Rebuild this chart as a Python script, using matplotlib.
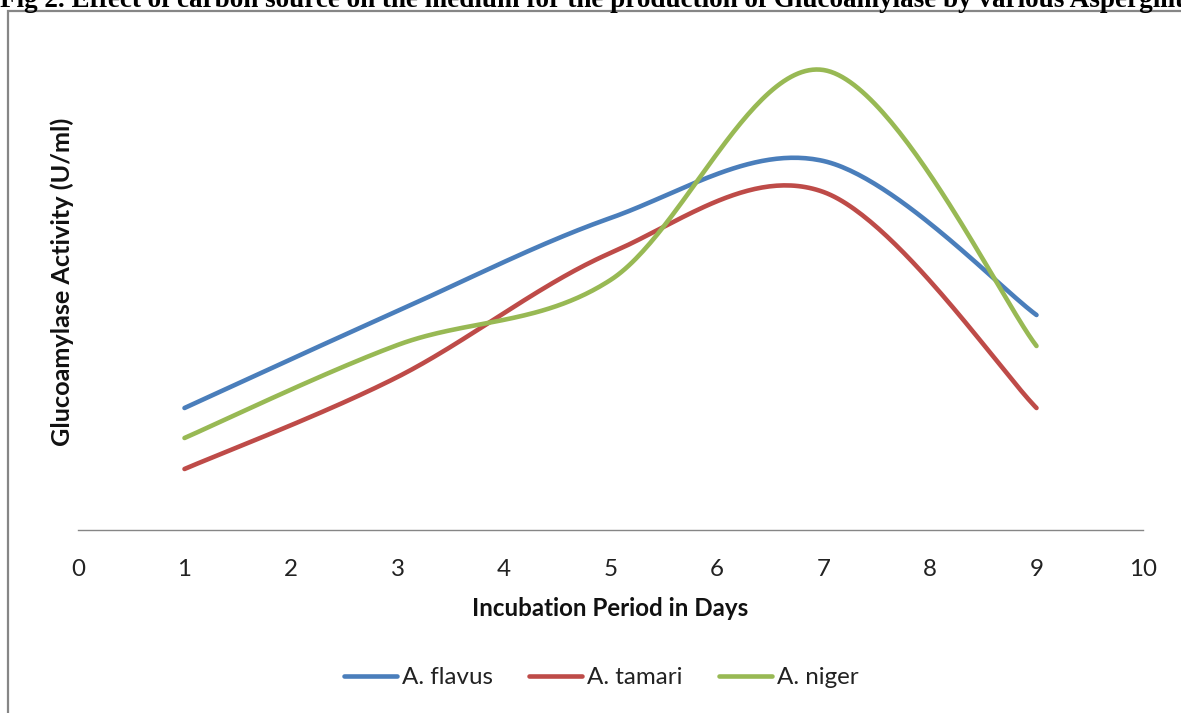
import numpy as np
import matplotlib
matplotlib.use("Agg")
import matplotlib.pyplot as plt
from matplotlib.patches import Rectangle

# ---- data ----
days = [1, 3, 5, 7, 9]
flavus = [2.44, 4.38, 6.24, 7.38, 4.30]
tamari = [1.22, 3.06, 5.54, 6.76, 2.44]
niger = [1.84, 3.70, 5.00, 9.20, 3.68]
series_names = ["A. flavus", "A. tamari", "A. niger"]
x_ticks = list(range(0, 11))
title = ("Fig 2. Effect of carbon source on the medium for the production "
         "of Glucoamylase by various Aspergillus")
x_label = "Incubation Period in Days"
y_label = "Glucoamylase Activity (U/ml)"

colors = ["#4A7EBB", "#BE4B48", "#98B954"]


def smooth(xs, ys, n=60):
    """Excel-style smoothed line (Bezier through points, Catmull-Rom handles)."""
    P = np.column_stack([xs, ys]).astype(float)
    m = len(P)
    out = []
    for i in range(m - 1):
        p0 = P[i - 1] if i > 0 else P[i]
        p1 = P[i]
        p2 = P[i + 1]
        p3 = P[i + 2] if i + 2 < m else P[i + 1]
        c1 = p1 + (p2 - p0) / 6.0
        c2 = p2 - (p3 - p1) / 6.0
        t = np.linspace(0, 1, n)[:, None]
        seg = ((1 - t) ** 3) * p1 + 3 * ((1 - t) ** 2) * t * c1 + 3 * (1 - t) * t ** 2 * c2 + t ** 3 * p2
        out.append(seg if i == 0 else seg[1:])
    arr = np.vstack(out)
    return arr[:, 0], arr[:, 1]


W, H = 1181, 713
fig = plt.figure(figsize=(W / 100, H / 100), dpi=100)

# outer chart border
fig.patches.append(Rectangle((8 / W, -0.05), 1.2, (H - 11) / H + 0.05,
                             transform=fig.transFigure, fill=False,
                             edgecolor="#868686", linewidth=1.6))

# title (partly outside the top edge, as in the source image)
fig.text(0.0, 1 - 7 / H, title, family="Liberation Serif", weight="bold",
         fontsize=19.5, ha="left", va="baseline", color="black")

ax = fig.add_axes([78 / W, 1 - 530 / H, (1143 - 78) / W, (530 - 40) / H])
for name, ys, c in zip(series_names, [flavus, tamari, niger], colors):
    sx, sy = smooth(days, ys)
    ax.plot(sx, sy, color=c, linewidth=3.3, solid_capstyle="round", label=name)

FS = 17.4
ax.set_xlim(0, 10)
ax.set_ylim(0, 9.8)
ax.set_xticks(x_ticks)
ax.set_yticks([])
for s in ["top", "right", "left"]:
    ax.spines[s].set_visible(False)
ax.spines["bottom"].set_color("#868686")
ax.spines["bottom"].set_linewidth(1.0)
ax.tick_params(axis="x", length=0, pad=21, labelsize=FS, labelcolor="#222222")
for lab in ax.get_xticklabels():
    lab.set_family("Lato")

ax.set_xlabel(x_label, family="Lato", weight="bold", fontsize=FS,
              color="#111111", labelpad=12)
fig.text(62 / W, 1 - 282 / H, y_label, family="Lato", weight="bold",
         fontsize=FS + 0.8, rotation=90, ha="center", va="center", color="#111111")

leg = fig.legend(loc="center", bbox_to_anchor=(601 / W, 1 - 678 / H), ncol=3,
                 frameon=False, handlelength=2.2, handletextpad=0.2,
                 columnspacing=1.5, prop={"family": "Lato", "size": FS})
for t in leg.get_texts():
    t.set_color("#222222")

fig.savefig("out.png", dpi=100)
